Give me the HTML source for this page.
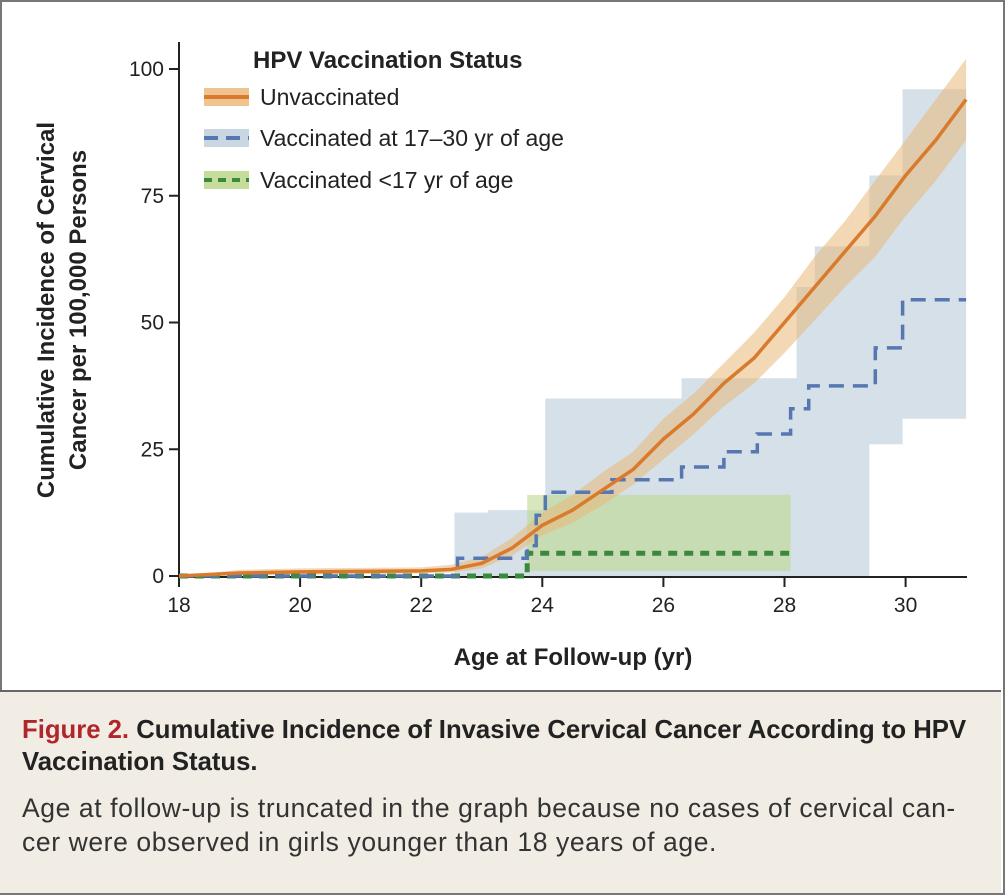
<!DOCTYPE html>
<html><head><meta charset="utf-8"><style>
body{margin:0;width:1005px;height:895px;overflow:hidden;background:#fff;font-family:"Liberation Sans",sans-serif}
#frame{position:absolute;left:0;top:0;width:1001px;height:891px;border:2px solid #777}
#cap{position:absolute;left:0;top:690px;width:1001px;height:201px;background:#f1ede4;border-top:2px solid #666}
</style></head><body>
<div id="frame"></div>
<svg id="chart" width="1005" height="690" style="position:absolute;left:0;top:0"></svg>
<div id="cap">
<div style="position:absolute;left:22px;top:22px;font-size:25.7px;font-weight:bold;color:#222;line-height:32px;width:975px;white-space:nowrap"><span style="color:#b0262b">Figure 2.</span> Cumulative Incidence of Invasive Cervical Cancer According to HPV<br>Vaccination Status.</div>
<div style="position:absolute;left:22px;top:99px;font-size:26.5px;letter-spacing:0.6px;color:#333;line-height:34px;width:980px;white-space:nowrap">Age at follow-up is truncated in the graph because no cases of cervical can-<br>cer were observed in girls younger than 18 years of age.</div>
</div>
<script>
const xTicks=[18,20,22,24,26,28,30];
const yTicks=[0,25,50,75,100];
const unvAge=[18,19,20,21,22,22.5,23,23.5,24,24.5,25,25.5,26,26.5,27,27.5,28,28.5,29,29.5,30,30.5,31];
const unvVal=[0,0.6,0.8,0.9,1,1.3,2.5,5.5,10,13,17,21,27,32,38,43,50,57,64,71,79,86,94];
const unvLow=[0,0.1,0.3,0.4,0.5,0.7,1.5,4,8,10.5,14,18,23,28,33.5,38,44,50.5,57,63,71,78,86];
const unvHigh=[0,1.2,1.5,1.6,1.7,2.2,3.8,7.5,12.5,16,20.5,24.5,31,36,42,48,55,63,70,78,86,94,102];
const vacAge=[18,22.6,23.75,23.9,24.05,25.15,26.3,27.0,27.55,28.1,28.4,29.5,29.95];
const vacVal=[0,3.5,6,12,16.5,19,21.5,24.5,28,33,37.5,45,54.5];
const vacHighAge=[22.55,23.1,24.05,26.3,28.2,28.5,29.4,29.95];
const vacHigh=[12.5,13,35,39,57,65,79,96];
const vacLowAge=[18,29.4,29.95];
const vacLow=[0,26,31];
const grAge=[18,23.75];
const grVal=[0,4.5];
const grEnd=28.1, vacEnd=31;
const grLow=1, grHigh=16;
const ns="http://www.w3.org/2000/svg",svg=document.getElementById('chart');
const X=v=>179+(v-18)*60.55, Y=v=>576-v*5.07;
function el(t,a,name){const e=document.createElementNS(ns,t);for(const k in a)e.setAttribute(k,a[k]);


svg.appendChild(e);return e;}
function stepPts(ages,vals,end){let p=[];for(let i=0;i<ages.length;i++){if(i>0)p.push([X(ages[i]),Y(vals[i-1])]);p.push([X(ages[i]),Y(vals[i])]);}p.push([X(end),Y(vals[vals.length-1])]);return p;}
const ps=p=>p.map(q=>q[0].toFixed(1)+','+q[1].toFixed(1)).join(' ');
let up=stepPts(vacHighAge,vacHigh,vacEnd), lo=stepPts(vacLowAge,vacLow,vacEnd).reverse();
el('polygon',{points:ps([[X(vacHighAge[0]),Y(0)],...up,...lo.filter(q=>q[0]>=X(vacHighAge[0])),[X(vacHighAge[0]),Y(0)]]),fill:'#b9cbd8','fill-opacity':0.6},'ci-vaccinated-17-30');
el('rect',{x:X(grAge[1]),y:Y(grHigh),width:X(grEnd)-X(grAge[1]),height:Y(grLow)-Y(grHigh),fill:'#bfd890','fill-opacity':0.6},'ci-vaccinated-under-17');
let hp=unvAge.map((a,i)=>[X(a),Y(unvHigh[i])]),lp=unvAge.map((a,i)=>[X(a),Y(unvLow[i])]).reverse();
el('polygon',{points:ps([...hp,...lp]),fill:'#e8b878','fill-opacity':0.55},'ci-unvaccinated');
el('line',{x1:179,y1:42,x2:179,y2:577,stroke:'#222','stroke-width':2},'y-axis');
el('line',{x1:178,y1:577,x2:967,y2:577,stroke:'#222','stroke-width':2},'x-axis');
xTicks.forEach(t=>{el('line',{x1:X(t),y1:577,x2:X(t),y2:587,stroke:'#222','stroke-width':2},'x-tick');
const tx=el('text',{x:X(t),y:612,'text-anchor':'middle','font-size':21,fill:'#222'},'x-tick-label');tx.textContent=t;});
yTicks.forEach(t=>{el('line',{x1:169,y1:Y(t),x2:179,y2:Y(t),stroke:'#222','stroke-width':2},'y-tick');
const tx=el('text',{x:164,y:Y(t)+7,'text-anchor':'end','font-size':21,fill:'#222'},'y-tick-label');tx.textContent=t;});
let t=el('text',{x:573,y:665,'text-anchor':'middle','font-size':24,'font-weight':'bold',fill:'#222'},'x-axis-title');t.textContent='Age at Follow-up (yr)';
t=el('text',{transform:'translate(54,310) rotate(-90)','text-anchor':'middle','font-size':24,'font-weight':'bold',fill:'#222'},'y-axis-title');t.textContent='Cumulative Incidence of Cervical';
t=el('text',{transform:'translate(86,310) rotate(-90)','text-anchor':'middle','font-size':24,'font-weight':'bold',fill:'#222'},'y-axis-title-line2');t.textContent='Cancer per 100,000 Persons';
el('polyline',{points:ps(stepPts(grAge,grVal,grEnd)),fill:'none',stroke:'#3a8a3e','stroke-width':5,'stroke-dasharray':'9 7'},'line-vaccinated-under-17');
el('polyline',{points:ps(stepPts(vacAge,vacVal,vacEnd)),fill:'none',stroke:'#5677b0','stroke-width':3.5,'stroke-dasharray':'15 9'},'line-vaccinated-17-30');
el('polyline',{points:ps(unvAge.map((a,i)=>[X(a),Y(unvVal[i])])),fill:'none',stroke:'#d97a2d','stroke-width':3.5},'line-unvaccinated');
t=el('text',{x:253,y:68,'font-size':24,'font-weight':'bold',fill:'#222'},'legend-title');t.textContent='HPV Vaccination Status';
const lg=[['Unvaccinated','#d97a2d','#efc48e',null,97],['Vaccinated at 17–30 yr of age','#5677b0','#c9d7e2','14 8',138],['Vaccinated <17 yr of age','#3a8a3e','#c6dc9a','8 6',180]];
lg.forEach(l=>{el('rect',{x:204,y:l[4]-9,width:45,height:18,fill:l[2]},'legend-swatch');
el('line',{x1:204,y1:l[4],x2:249,y2:l[4],stroke:l[1],'stroke-width':4,'stroke-dasharray':l[3]||'none'},'legend-line');
const tt=el('text',{x:260,y:l[4]+8,'font-size':23,fill:'#222'},'legend-entry');tt.textContent=l[0];});
</script>
</body></html>
